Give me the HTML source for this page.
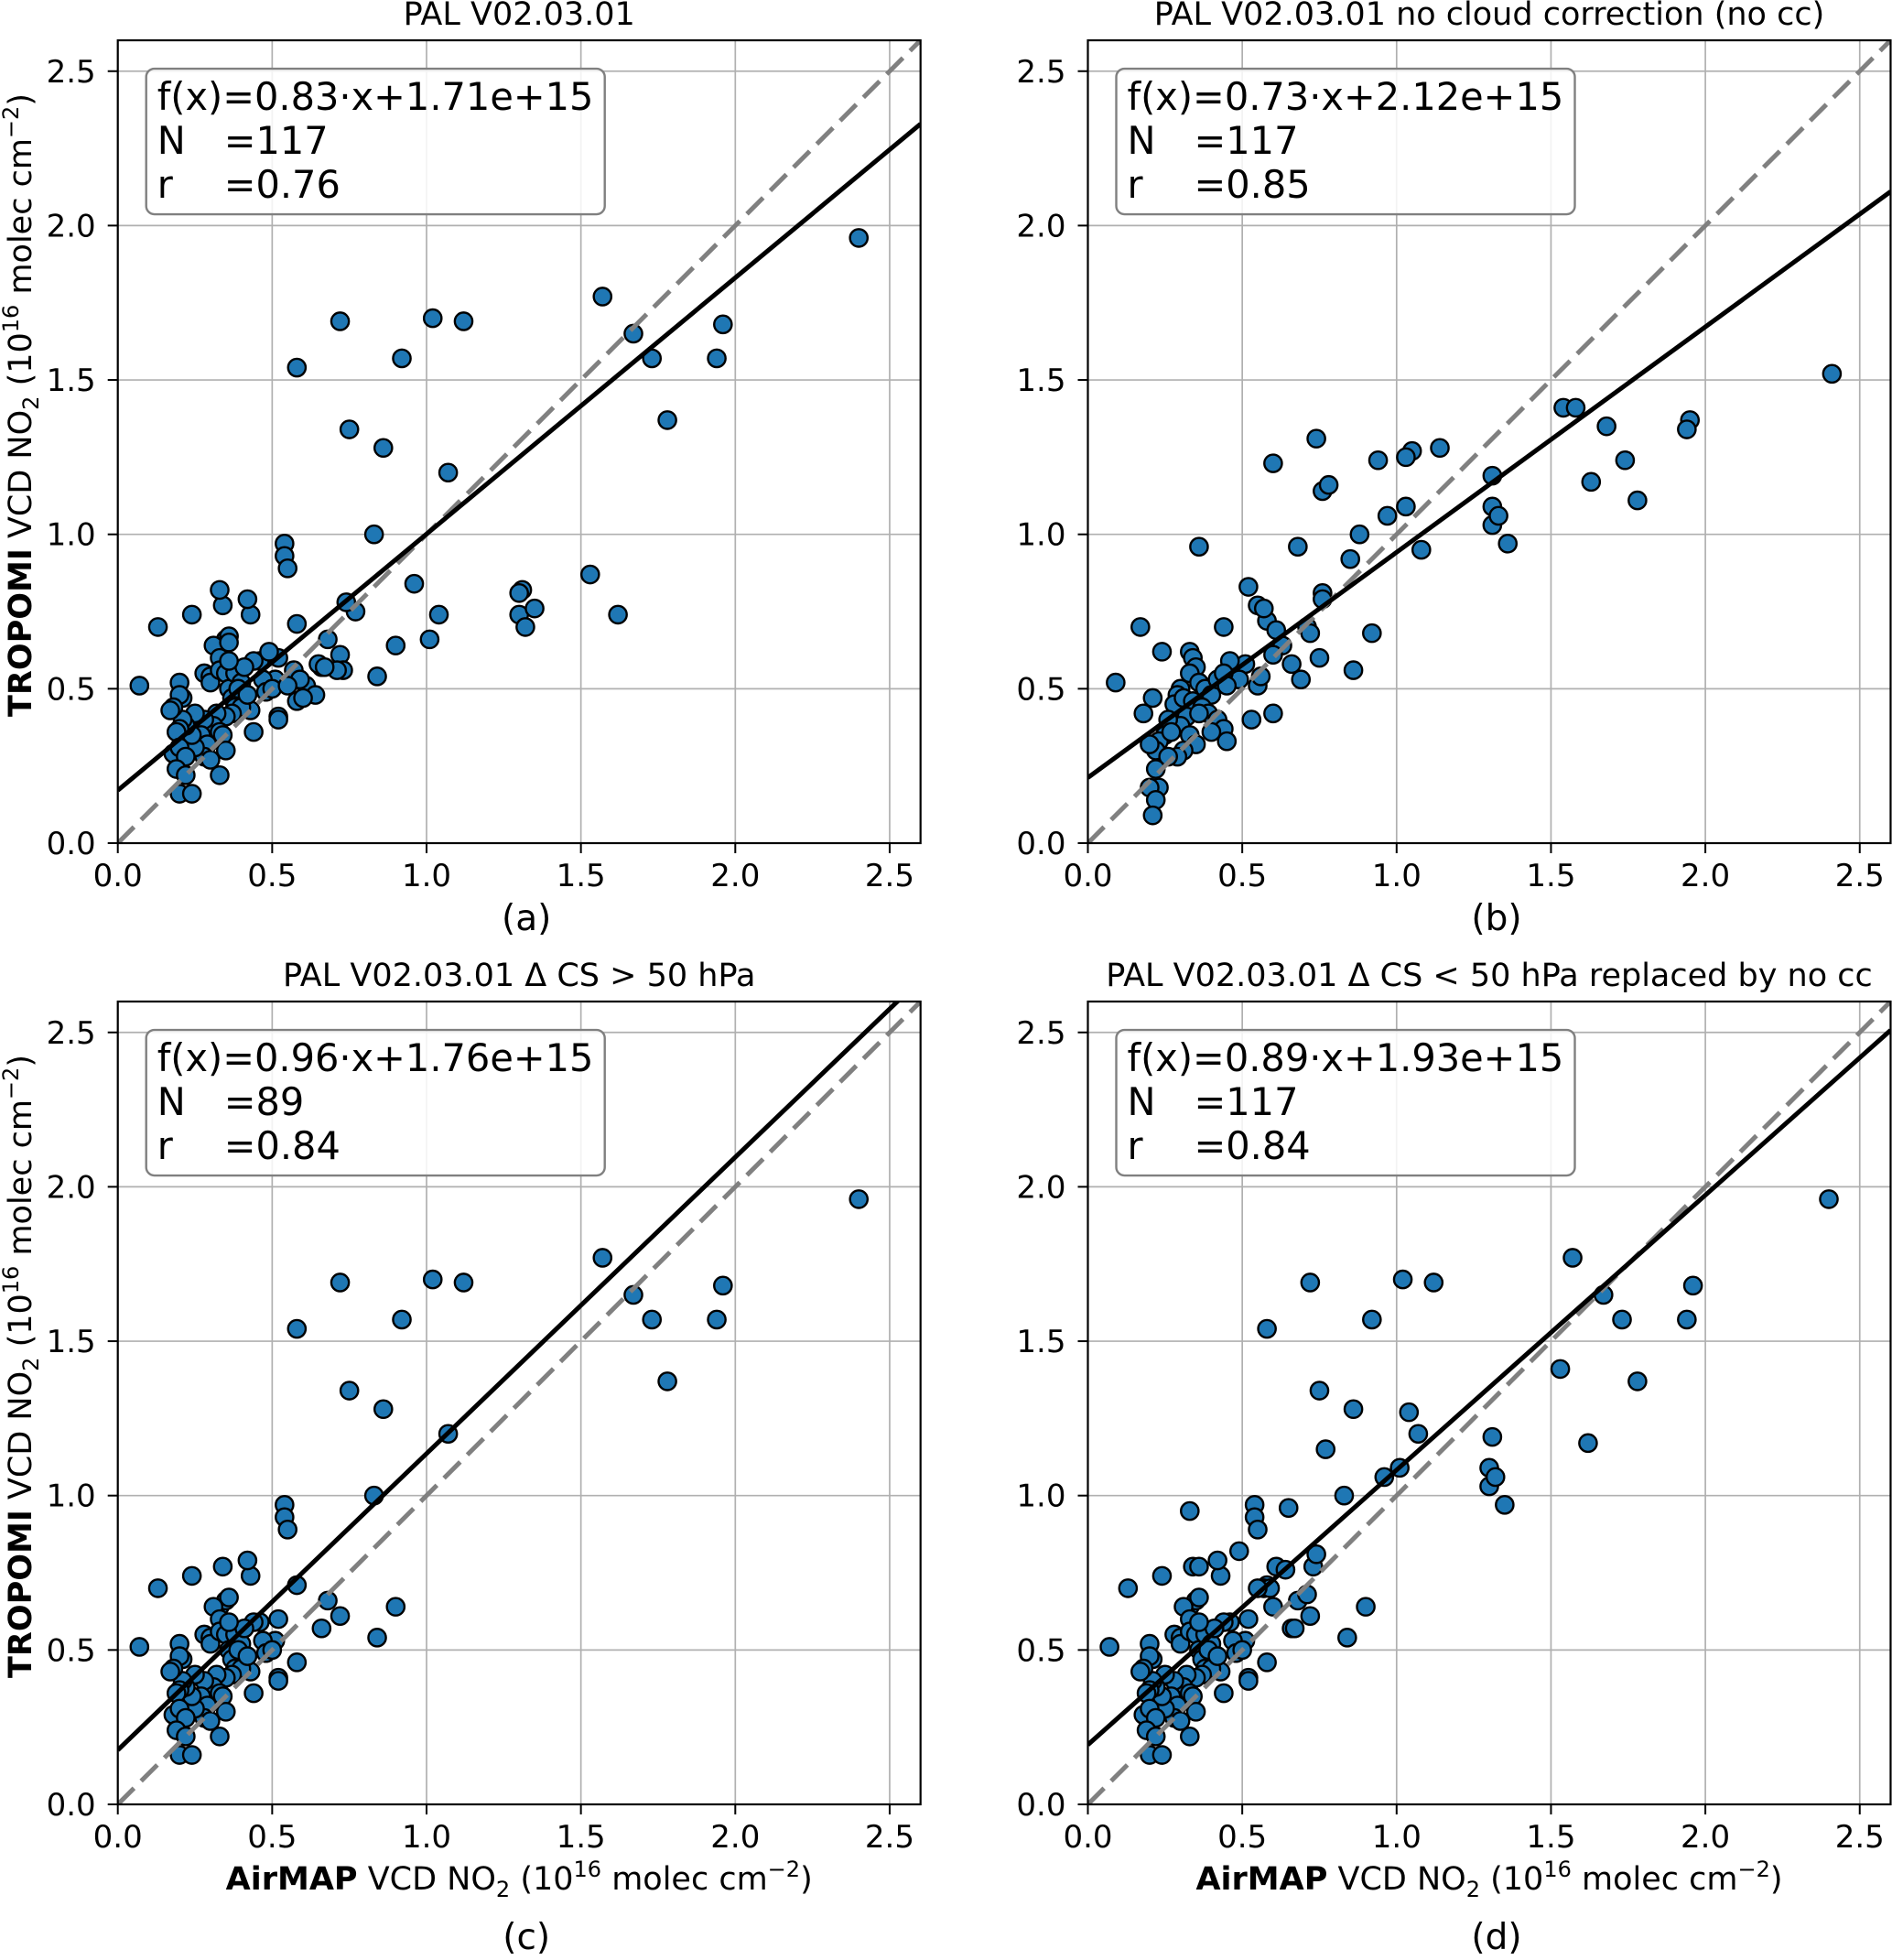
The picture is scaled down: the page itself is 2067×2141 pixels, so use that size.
<!DOCTYPE html>
<html><head><meta charset="utf-8">
<style>
html,body{margin:0;padding:0;background:#fff;}
svg{display:block;font-family:"DejaVu Sans","Liberation Sans",sans-serif;}
</style></head>
<body>
<svg id="fig" width="2067" height="2141" viewBox="0 0 2067 2141" xmlns="http://www.w3.org/2000/svg"></svg>
<script>
// ---- data (10^16 molec cm^-2) ----
const highX = [2.40,1.57,1.67,1.96,1.73,1.94,1.78,1.02,1.12,0.72,0.58,0.92,0.75,0.86,1.07,0.83,0.90,0.84,0.54,0.54,0.55,0.58,0.68,0.66,0.72,0.52,0.51,0.52,0.47,0.43,0.44,0.43,0.42,0.34,0.13,0.24,0.07,0.58,0.52,0.46,0.48,0.50,0.44,
  0.33,0.35,0.36,0.31,0.33,0.28,0.30,0.30,0.33,0.35,0.36,0.37,0.38,0.40,0.41,0.39,0.38,0.40,0.37,0.35,0.32,0.31,0.33,0.34,0.35,0.33,0.28,0.27,0.29,0.28,0.30,0.25,0.25,0.24,0.22,0.21,0.21,0.20,0.20,0.18,0.17,0.20,0.19,0.18,0.20,0.22,0.19,0.22,0.20,0.24,0.36,0.42];
const highPal = [1.96,1.77,1.65,1.68,1.57,1.57,1.37,1.70,1.69,1.69,1.54,1.57,1.34,1.28,1.20,1.00,0.64,0.54,0.97,0.93,0.89,0.71,0.66,0.57,0.61,0.60,0.53,0.41,0.53,0.43,0.36,0.74,0.79,0.77,0.70,0.74,0.51,0.46,0.40,0.59,0.49,0.50,0.59,
  0.64,0.66,0.67,0.64,0.60,0.55,0.54,0.52,0.56,0.55,0.50,0.47,0.55,0.52,0.57,0.50,0.44,0.44,0.42,0.41,0.42,0.38,0.36,0.35,0.30,0.22,0.40,0.35,0.32,0.28,0.27,0.42,0.31,0.35,0.38,0.40,0.47,0.52,0.48,0.44,0.43,0.37,0.36,0.29,0.31,0.28,0.24,0.22,0.16,0.16,0.59,0.48];
const lowX   = [1.53,1.62,1.31,1.30,1.30,1.32,1.35,0.96,1.04,1.01,0.77,0.73,0.71,0.65,0.61,0.64,0.57,0.59,0.49,0.33,0.74,0.60,0.67,0.36,0.55];
const lowPal = [0.87,0.74,0.82,0.81,0.74,0.70,0.76,0.84,0.74,0.66,0.75,0.56,0.56,0.58,0.51,0.48,0.56,0.53,0.62,0.82,0.78,0.47,0.57,0.65,0.51];
const lowNoCC= [1.41,1.17,1.19,1.09,1.03,1.06,0.97,1.06,1.27,1.09,1.15,0.77,0.68,0.96,0.77,0.76,0.70,0.70,0.82,0.95,0.81,0.64,0.57,0.77,0.70];
const bX = [2.41,1.54,1.58,1.68,1.95,1.94,1.74,1.78,1.63,1.31,1.31,1.31,1.33,1.36,1.14,1.05,1.03,0.94,1.08,1.03,0.97,0.88,0.85,0.92,0.86,
  0.74,0.76,0.78,0.60,0.68,0.76,0.76,0.75,0.69,0.71,0.72,0.58,0.61,0.63,0.66,0.60,0.60,0.52,0.55,0.57,0.53,0.55,0.56,0.51,0.46,0.49,0.44,0.36,0.17,0.09,
  0.33,0.34,0.35,0.33,0.36,0.38,0.40,0.42,0.44,0.45,0.30,0.29,0.28,0.31,0.34,0.37,0.39,0.42,0.44,0.45,0.32,0.30,0.33,0.35,0.31,0.29,0.26,0.25,0.23,0.22,0.20,0.18,0.21,0.24,0.26,0.22,0.23,0.20,0.22,0.21,0.27,0.36,0.40];
const bY = [1.52,1.41,1.41,1.35,1.37,1.34,1.24,1.11,1.17,1.19,1.09,1.03,1.06,0.97,1.28,1.27,1.25,1.24,0.95,1.09,1.06,1.00,0.92,0.68,0.56,
  1.31,1.14,1.16,1.23,0.96,0.81,0.79,0.60,0.53,0.70,0.68,0.72,0.69,0.64,0.58,0.61,0.42,0.83,0.77,0.76,0.40,0.51,0.54,0.58,0.59,0.53,0.70,0.96,0.70,0.52,
  0.62,0.60,0.57,0.55,0.52,0.50,0.48,0.53,0.55,0.51,0.50,0.48,0.45,0.47,0.46,0.44,0.42,0.40,0.37,0.33,0.41,0.38,0.35,0.32,0.30,0.28,0.40,0.35,0.33,0.30,0.32,0.42,0.47,0.62,0.28,0.24,0.18,0.18,0.14,0.09,0.36,0.42,0.36];
const fitSlope = [0.83,0.73,0.96,0.89];
const fitIntercept = [0.171,0.212,0.176,0.193];
const fitText = ["f(x)=0.83·x+1.71e+15","f(x)=0.73·x+2.12e+15","f(x)=0.96·x+1.76e+15","f(x)=0.89·x+1.93e+15"];
const nText = ["=117","=117","=89","=117"];
const rText = ["=0.76","=0.85","=0.84","=0.84"];
const titles = ["PAL V02.03.01","PAL V02.03.01 no cloud correction (no cc)","PAL V02.03.01 Δ CS > 50 hPa","PAL V02.03.01 Δ CS < 50 hPa replaced by no cc"];
const panelLetters = ["(a)","(b)","(c)","(d)"];
const ticks = [0,0.5,1.0,1.5,2.0,2.5];
const tickLabels = ["0.0","0.5","1.0","1.5","2.0","2.5"];

const NS = "http://www.w3.org/2000/svg";
const svg = document.getElementById('fig');
function mk(tag, attrs, parent){ const e=document.createElementNS(NS,tag); for(const k in attrs) e.setAttribute(k,attrs[k]); (parent||svg).appendChild(e); return e; }

const S = 337.3, MAXV = 2.6, W = S*MAXV;
const origins = [[128.7,921],[1188.5,921],[128.7,1971],[1188.5,1971]];

function panelData(i){
  if(i===0) return [highX.concat(lowX), highPal.concat(lowPal)];
  if(i===1) return [bX, bY];
  if(i===2) return [highX, highPal];
  return [highX.concat(lowX), highPal.concat(lowNoCC)];
}

for(let i=0;i<4;i++){
  const [ox, oy] = origins[i];
  const sx = v => ox + v*S;
  const sy = v => oy - v*S;
  const g = mk('g',{});
  
  
  const cid = 'clip'+i;
  const cp = mk('clipPath',{id:cid},g); mk('rect',{x:ox,y:oy-W,width:W,height:W},cp);
  ticks.forEach((t,k)=>{
    const gx = mk('line',{x1:sx(t),x2:sx(t),y1:oy,y2:oy-W,stroke:'#b0b0b0','stroke-width':1.7},g);
     
    const gy = mk('line',{x1:ox,x2:ox+W,y1:sy(t),y2:sy(t),stroke:'#b0b0b0','stroke-width':1.7},g);
     
  });
  const plot = mk('g',{'clip-path':'url(#'+cid+')'},g);
  const [xs, ys] = panelData(i);
  xs.forEach((x,k)=>{
    const c = mk('circle',{cx:sx(x),cy:sy(ys[k]),r:9.6,fill:'#1f77b4',stroke:'#000','stroke-width':2.4},plot);
    
    
  });
  const one = mk('line',{x1:sx(0),y1:sy(0),x2:sx(MAXV),y2:sy(MAXV),stroke:'#808080','stroke-width':5,'stroke-dasharray':'25 11'},plot);
   
  const fl = mk('line',{x1:sx(0),y1:sy(fitIntercept[i]),x2:sx(MAXV),y2:sy(fitIntercept[i]+fitSlope[i]*MAXV),stroke:'#000','stroke-width':5},plot);
   
  const fr = mk('rect',{x:ox,y:oy-W,width:W,height:W,fill:'none',stroke:'#000','stroke-width':2.2},g);
   
  ticks.forEach((t,k)=>{
    mk('line',{x1:sx(t),x2:sx(t),y1:oy,y2:oy+11,stroke:'#000','stroke-width':2},g);
    mk('line',{x1:ox-11,x2:ox,y1:sy(t),y2:sy(t),stroke:'#000','stroke-width':2},g);
    const xl = mk('text',{x:sx(t),y:oy+47,'font-size':34,'text-anchor':'middle'},g);
    xl.textContent = tickLabels[k];
     
    const yl = mk('text',{x:ox-24,y:sy(t)+12,'font-size':34,'text-anchor':'end'},g);
    yl.textContent = tickLabels[k];
     
  });
  const tt = mk('text',{x:ox+W/2,y:oy-W-17,'font-size':35,'text-anchor':'middle'},g);
  tt.textContent = titles[i];
   
  const bw = 501;
  const bx = ox+31, by = oy-W+31;
  const box = mk('rect',{x:bx,y:by,width:bw,height:159,rx:9,fill:'#fff','fill-opacity':0.85,stroke:'#808080','stroke-width':2.4},g);
   
  const tx = bx+12;
  const l1 = mk('text',{x:tx,y:by+45,'font-size':41.5},g); l1.textContent = fitText[i];
   
  const l2a = mk('text',{x:tx,y:by+93,'font-size':41.5},g); l2a.textContent='N';
   
  const l2b = mk('text',{x:tx+73,y:by+93,'font-size':41.5},g); l2b.textContent=nText[i];
   
  const l3a = mk('text',{x:tx,y:by+141,'font-size':41.5},g); l3a.textContent='r';
   
  const l3b = mk('text',{x:tx+73,y:by+141,'font-size':41.5},g); l3b.textContent=rText[i];
   
  const pl = mk('text',{x:ox+W/2+8,y:(i<2?1016:2129),'font-size':39,'text-anchor':'middle'},g);
  pl.textContent = panelLetters[i];
   
  if(i>=2){
    const xlab = mk('text',{x:ox+W/2,y:2064,'font-size':35,'text-anchor':'middle'},g);
     
    xlab.innerHTML = '<tspan font-weight="bold">AirMAP</tspan> VCD NO<tspan font-size="24" dy="8">2</tspan><tspan dy="-8"> (10</tspan><tspan font-size="24" dy="-14">16</tspan><tspan dy="14"> molec cm</tspan><tspan font-size="24" dy="-14">−2</tspan><tspan dy="14">)</tspan>';
  }
  if(i%2===0){
    const cy = oy - W/2 - 40;
    const ylab = mk('text',{x:0,y:0,'font-size':35,'text-anchor':'middle',transform:'translate(34,'+cy+') rotate(-90)'},g);
     
    ylab.innerHTML = '<tspan font-weight="bold">TROPOMI</tspan> VCD NO<tspan font-size="24" dy="8">2</tspan><tspan dy="-8"> (10</tspan><tspan font-size="24" dy="-14">16</tspan><tspan dy="14"> molec cm</tspan><tspan font-size="24" dy="-14">−2</tspan><tspan dy="14">)</tspan>';
  }
}
</script>
</body></html>
